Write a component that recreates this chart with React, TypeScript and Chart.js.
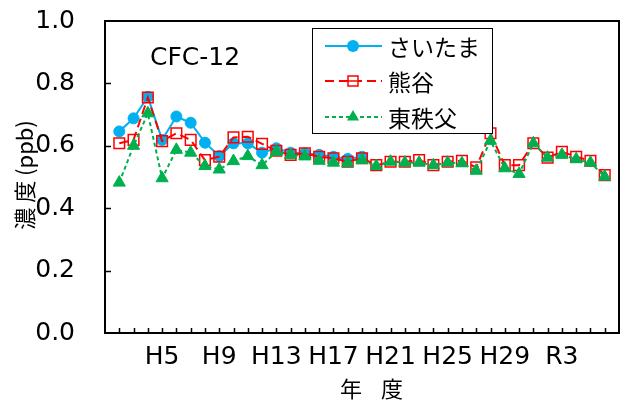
import React, { useEffect, useRef } from 'react';
import { Chart, registerables } from 'chart.js';

Chart.register(...registerables);

// Fiscal years along the axis (first and last positions are empty)
const years = [
  'H1', 'H2', 'H3', 'H4', 'H5', 'H6', 'H7', 'H8', 'H9', 'H10',
  'H11', 'H12', 'H13', 'H14', 'H15', 'H16', 'H17', 'H18', 'H19', 'H20',
  'H21', 'H22', 'H23', 'H24', 'H25', 'H26', 'H27', 'H28', 'H29', 'H30',
  'R1', 'R2', 'R3', 'R4', 'R5', 'R6', 'R7',
];

const shownTicks = ['H5', 'H9', 'H13', 'H17', 'H21', 'H25', 'H29', 'R3'];

const seriesNames = ['さいたま', '熊谷', '東秩父'];

const saitama = [
  null, 0.646, 0.688, 0.757, 0.619, 0.694, 0.674, 0.61, 0.567, 0.608,
  0.608, 0.578, 0.592, 0.578, 0.576, 0.571, 0.565, 0.558, 0.565, null,
  null, null, null, null, null, null, null, null, null, null,
  null, null, null, null, null, null, null,
];

const kumagaya = [
  null, 0.608, 0.619, 0.755, 0.615, 0.64, 0.619, 0.554, 0.565, 0.627,
  0.629, 0.606, 0.584, 0.571, 0.576, 0.565, 0.56, 0.549, 0.56, 0.538,
  0.549, 0.549, 0.554, 0.538, 0.549, 0.552, 0.531, 0.64, 0.538, 0.538,
  0.608, 0.562, 0.581, 0.565, 0.552, 0.506, null,
];

const higashichichibu = [
  null, 0.482, 0.6, 0.704, 0.496, 0.587, 0.578, 0.535, 0.524, 0.551,
  0.567, 0.538, 0.581, 0.57, 0.566, 0.552, 0.546, 0.544, 0.554, 0.535,
  0.549, 0.546, 0.546, 0.538, 0.546, 0.544, 0.52, 0.616, 0.528, 0.51,
  0.608, 0.562, 0.571, 0.557, 0.546, 0.501, null,
];

const yTicks = [0, 0.2, 0.4, 0.6, 0.8, 1.0];

const BLUE = '#00B0F0';
const RED = '#FF0000';
const GREEN = '#00B050';
const LATIN = "'DejaVu Sans', sans-serif";
const CJK = "'Noto Sans CJK JP', sans-serif";

function drawMarker(ctx: CanvasRenderingContext2D, kind: string, x: number, y: number) {
  ctx.save();
  if (kind === 'circle') {
    ctx.fillStyle = BLUE;
    ctx.beginPath();
    ctx.arc(x, y, 6, 0, Math.PI * 2);
    ctx.fill();
  } else if (kind === 'rect') {
    ctx.fillStyle = '#fff';
    ctx.strokeStyle = RED;
    ctx.lineWidth = 1.5;
    ctx.fillRect(x - 5, y - 5, 10, 10);
    ctx.strokeRect(x - 5, y - 5, 10, 10);
    ctx.beginPath();
    ctx.moveTo(x - 5, y);
    ctx.lineTo(x + 5, y);
    ctx.stroke();
  } else {
    const r = 7;
    ctx.fillStyle = GREEN;
    ctx.beginPath();
    for (let k = 0; k < 3; k++) {
      const a = (k * 2 * Math.PI) / 3;
      const px = x + Math.sin(a) * r;
      const py = y - Math.cos(a) * r;
      if (k === 0) ctx.moveTo(px, py);
      else ctx.lineTo(px, py);
    }
    ctx.closePath();
    ctx.fill();
  }
  ctx.restore();
}

const decorPlugin = {
  id: 'decor',
  beforeDatasetsDraw(chart: any) {
    const { ctx, chartArea: a, scales } = chart;
    const x = scales.x;
    const y = scales.y;
    ctx.save();
    ctx.strokeStyle = '#000';
    ctx.lineWidth = 1.5;
    ctx.beginPath();
    for (let i = 1; i < years.length - 1; i++) {
      const px = Math.round(x.getPixelForValue(i)) + 0.5;
      ctx.moveTo(px, a.bottom);
      ctx.lineTo(px, a.bottom - 5);
    }
    for (const v of yTicks) {
      if (v <= 0 || v >= 1) continue;
      const py = Math.round(y.getPixelForValue(v)) + 0.5;
      ctx.moveTo(a.left, py);
      ctx.lineTo(a.left + 6, py);
    }
    ctx.stroke();
    ctx.lineWidth = 2;
    ctx.strokeRect(a.left, a.top, a.right - a.left, a.bottom - a.top);
    ctx.restore();
  },
  afterDraw(chart: any) {
    const { ctx, chartArea: a } = chart;
    ctx.save();
    ctx.fillStyle = '#000';
    // CFC-12 label
    ctx.font = `25px ${LATIN}`;
    ctx.textAlign = 'left';
    ctx.textBaseline = 'middle';
    ctx.fillText('CFC-12', a.left + 45, a.top + 37);

    // legend
    const lx = 312, ly = 28, lw = 180, lh = 105;
    ctx.fillStyle = '#fff';
    ctx.fillRect(lx, ly, lw, lh);
    ctx.strokeStyle = '#000';
    ctx.lineWidth = 1;
    ctx.strokeRect(lx + 0.5, ly + 0.5, lw, lh);
    const rows = [
      { color: BLUE, dash: [] as number[], marker: 'circle', y: 46 },
      { color: RED, dash: [9, 5], marker: 'rect', y: 81 },
      { color: GREEN, dash: [4, 3], marker: 'tri', y: 117 },
    ];
    rows.forEach((r, i) => {
      ctx.save();
      ctx.strokeStyle = r.color;
      ctx.lineWidth = 2;
      ctx.setLineDash(r.dash);
      ctx.beginPath();
      ctx.moveTo(325, r.y);
      ctx.lineTo(382, r.y);
      ctx.stroke();
      ctx.restore();
      drawMarker(ctx, r.marker, 353, r.y);
      ctx.fillStyle = '#000';
      ctx.font = `23px ${CJK}`;
      ctx.textAlign = 'left';
      ctx.textBaseline = 'middle';
      ctx.fillText(seriesNames[i], 388, r.y + 1);
    });

    // axis titles
    ctx.fillStyle = '#000';
    ctx.font = `22px ${CJK}`;
    ctx.textAlign = 'center';
    ctx.textBaseline = 'middle';
    ctx.fillText('年', 351, 389);
    ctx.fillText('度', 392, 389);
    ctx.save();
    ctx.translate(25, 175);
    ctx.rotate(-Math.PI / 2);
    ctx.font = `22px ${CJK}`;
    ctx.fillText('濃 度 (ppb)', 0, 0);
    ctx.restore();
    ctx.restore();
  },
};

export default function App() {
  const ref = useRef<HTMLCanvasElement | null>(null);

  useEffect(() => {
    if (!ref.current) return;
    const chart = new Chart(ref.current, {
      type: 'line',
      data: {
        labels: years,
        datasets: [
          {
            label: seriesNames[0],
            data: saitama,
            borderColor: BLUE,
            backgroundColor: BLUE,
            borderWidth: 2,
            pointStyle: 'circle',
            pointRadius: 5.5,
            pointBackgroundColor: BLUE,
            pointBorderColor: BLUE,
            pointBorderWidth: 1,
            order: 2,
            tension: 0,
          },
          {
            label: seriesNames[1],
            data: kumagaya,
            borderColor: RED,
            backgroundColor: RED,
            borderWidth: 2,
            borderDash: [9, 5],
            pointStyle: 'rect',
            pointRadius: 7.5,
            pointBackgroundColor: 'rgba(0,0,0,0)',
            pointBorderColor: RED,
            pointBorderWidth: 1.5,
            order: 1,
            tension: 0,
          },
          {
            label: seriesNames[2],
            data: higashichichibu,
            borderColor: GREEN,
            backgroundColor: GREEN,
            borderWidth: 2,
            borderDash: [4, 3],
            pointStyle: 'triangle',
            pointRadius: 7,
            pointBackgroundColor: GREEN,
            pointBorderColor: GREEN,
            pointBorderWidth: 1,
            order: 0,
            tension: 0,
          },
        ],
      },
      options: {
        animation: false,
        responsive: false,
        devicePixelRatio: 1,
        layout: { autoPadding: false, padding: { top: 21, right: 1, left: 0, bottom: 0 } },
        plugins: {
          legend: { display: false },
          tooltip: { enabled: false },
          title: { display: false },
        },
        scales: {
          x: {
            type: 'category',
            offset: false,
            grid: { display: false },
            border: { display: false },
            ticks: {
              autoSkip: false,
              maxRotation: 0,
              minRotation: 0,
              padding: 1,
              color: '#000',
              font: { family: LATIN, size: 25 },
              callback: function (this: any, value: any) {
                const l = this.getLabelForValue(value);
                return shownTicks.includes(l) ? l : '';
              },
            },
            afterFit: (s: any) => {
              s.height = 70;
              s.paddingLeft = 0;
              s.paddingRight = 0;
            },
          },
          y: {
            min: 0,
            max: 1,
            grid: { display: false },
            border: { display: false },
            afterBuildTicks: (s: any) => {
              s.ticks = yTicks.map((v) => ({ value: v }));
            },
            ticks: {
              padding: 22,
              color: '#000',
              font: { family: LATIN, size: 25 },
              callback: (v: any) => Number(v).toFixed(1),
            },
            afterFit: (s: any) => {
              s.width = 105;
              s.paddingTop = 0;
              s.paddingBottom = 0;
            },
          },
        },
      },
      plugins: [decorPlugin],
    });
    return () => chart.destroy();
  }, []);

  return (
    <div style={{ position: 'absolute', left: 0, top: 0, width: 620, height: 403, background: '#fff' }}>
      <canvas ref={ref} width={620} height={403} style={{ display: 'block', width: 620, height: 403 }} />
    </div>
  );
}
